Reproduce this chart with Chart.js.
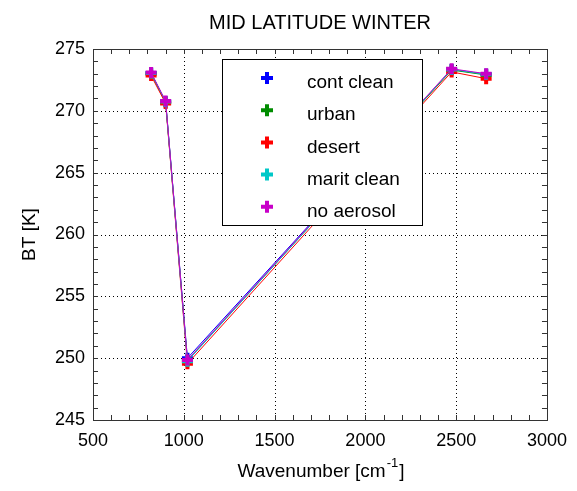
<!DOCTYPE html>
<html>
<head>
<meta charset="utf-8">
<script src="https://cdn.jsdelivr.net/npm/chart.js@4/dist/chart.umd.min.js"></script>
<style>
  html, body { margin: 0; padding: 0; background: #fff; }
  #wrap { width: 577px; height: 491px; position: relative; }
</style>
</head>
<body>
<div id="wrap"><canvas id="grafico"></canvas></div>
<script>
// datos
const titulo = 'MID LATITUDE WINTER';
const numeroOnda = [820, 900, 1020, 2475, 2665];
const nombres = ['cont clean', 'urban', 'desert', 'marit clean', 'no aerosol'];
const contClean = [273.05, 270.75, 250.0, 273.35, 272.95];
const urban = [273.0, 270.7, 249.8, 273.3, 272.9];
const desert = [272.85, 270.6, 249.55, 273.15, 272.6];
const maritClean = [273.05, 270.75, 249.75, 273.35, 272.95];
const noAerosol = [273.1, 270.8, 249.85, 273.4, 273.0];
const xTicks = [500, 1000, 1500, 2000, 2500, 3000];
const yTicks = [245, 250, 255, 260, 265, 270, 275];

const series = [contClean, urban, desert, maritClean, noAerosol];
const colores = ['#0000ff', '#008c00', '#ff0000', '#00c8c8', '#c800c8'];
const fuente = '"Liberation Sans", Arial, sans-serif';

const datasets = series.map((vals, i) => ({
  label: nombres[i],
  data: vals.map((v, j) => ({ x: numeroOnda[j], y: v })),
  borderColor: colores[i],
  backgroundColor: colores[i],
  borderWidth: 1,
  pointStyle: 'cross',
  pointRadius: 5.5,
  pointBorderWidth: 4,
  pointHoverRadius: 5.5,
  tension: 0,
  order: series.length - i   // no aerosol encima
}));

// ejes, rejilla punteada, marcas menores, titulo y leyenda
const decoracion = {
  id: 'decoracion',
  beforeDatasetsDraw(chart) {
    const { ctx, chartArea: a, scales: { x, y } } = chart;
    ctx.save();
    ctx.strokeStyle = '#000';
    ctx.lineWidth = 1;
    ctx.setLineDash([1, 3]);
    xTicks.slice(1, -1).forEach(v => {
      const px = Math.round(x.getPixelForValue(v)) + 0.5;
      ctx.beginPath(); ctx.moveTo(px, a.top); ctx.lineTo(px, a.bottom); ctx.stroke();
    });
    yTicks.slice(1, -1).forEach(v => {
      const py = Math.round(y.getPixelForValue(v)) + 0.5;
      ctx.beginPath(); ctx.moveTo(a.left, py); ctx.lineTo(a.right, py); ctx.stroke();
    });
    ctx.setLineDash([]);
    ctx.strokeStyle = '#333';
    // marcas menores hacia dentro
    for (let v = 500; v <= 3000; v += 100) {
      const px = Math.round(x.getPixelForValue(v)) + 0.5;
      ctx.beginPath();
      ctx.moveTo(px, a.bottom); ctx.lineTo(px, a.bottom - 5);
      ctx.moveTo(px, a.top); ctx.lineTo(px, a.top + 5);
      ctx.stroke();
    }
    for (let v = 245; v <= 275; v += 1) {
      const py = Math.round(y.getPixelForValue(v)) + 0.5;
      ctx.beginPath();
      ctx.moveTo(a.left, py); ctx.lineTo(a.left + 5, py);
      ctx.moveTo(a.right, py); ctx.lineTo(a.right - 5, py);
      ctx.stroke();
    }
    ctx.strokeRect(Math.round(a.left) + 0.5, Math.round(a.top) + 0.5,
      Math.round(a.right - a.left), Math.round(a.bottom - a.top));
    ctx.restore();
  },
  afterDraw(chart) {
    const { ctx, chartArea: a } = chart;
    ctx.save();
    ctx.fillStyle = '#000';
    ctx.textBaseline = 'middle';
    ctx.textAlign = 'center';
    ctx.font = '20px ' + fuente;
    ctx.fillText(titulo, (a.left + a.right) / 2, 23);

    // titulo eje x con superindice
    ctx.font = '19px ' + fuente;
    const t1 = 'Wavenumber [cm', t2 = '-1', t3 = ']';
    const w1 = ctx.measureText(t1).width, w3 = ctx.measureText(t3).width;
    ctx.font = '13px ' + fuente;
    const w2 = ctx.measureText(t2).width;
    let xs = (a.left + a.right) / 2 - (w1 + w2 + w3) / 2;
    ctx.textAlign = 'left';
    ctx.font = '19px ' + fuente;
    ctx.fillText(t1, xs, 472);
    ctx.font = '13px ' + fuente;
    ctx.fillText(t2, xs + w1 + 1, 463);
    ctx.font = '19px ' + fuente;
    ctx.fillText(t3, xs + w1 + w2 + 2, 472);

    // titulo eje y
    ctx.save();
    ctx.translate(30, (a.top + a.bottom) / 2);
    ctx.rotate(-Math.PI / 2);
    ctx.textAlign = 'center';
    ctx.fillText('BT [K]', 0, 0);
    ctx.restore();

    // leyenda dentro del area
    const lx = 222, ly = 59, lw = 200, lh = 166;
    ctx.fillStyle = '#fff';
    ctx.fillRect(lx, ly, lw, lh);
    ctx.strokeStyle = '#000';
    ctx.lineWidth = 1;
    ctx.strokeRect(lx + 0.5, ly + 0.5, lw, lh);
    nombres.forEach((n, i) => {
      const cy = 78 + i * 32.2;
      ctx.strokeStyle = colores[i];
      ctx.lineWidth = 4;
      ctx.beginPath();
      ctx.moveTo(261, cy); ctx.lineTo(273, cy);
      ctx.moveTo(267, cy - 6); ctx.lineTo(267, cy + 6);
      ctx.stroke();
      ctx.fillStyle = '#000';
      ctx.font = '19px ' + fuente;
      ctx.textAlign = 'left';
      ctx.fillText(n, 307, cy + 5);
    });
    ctx.restore();
  }
};

new Chart(document.getElementById('grafico'), {
  type: 'line',
  data: { datasets },
  options: {
    responsive: true,
    maintainAspectRatio: false,
    animation: false,
    layout: { padding: { top: 49, right: 24, left: 0, bottom: 0 } },
    plugins: {
      legend: { display: false },
      title: { display: false },
      tooltip: { enabled: false }
    },
    scales: {
      x: {
        type: 'linear',
        min: 500, max: 3000,
        afterFit: s => { s.height = 71; },
        afterBuildTicks: s => { s.ticks = xTicks.map(v => ({ value: v })); },
        grid: { display: false, drawTicks: false },
        border: { display: false },
        ticks: { color: '#000', font: { family: fuente, size: 18 }, padding: 10, maxRotation: 0,
                 callback: v => String(v) }
      },
      y: {
        min: 245, max: 275,
        afterFit: s => { s.width = 93; },
        afterBuildTicks: s => { s.ticks = yTicks.map(v => ({ value: v })); },
        grid: { display: false, drawTicks: false },
        border: { display: false },
        ticks: { color: '#000', font: { family: fuente, size: 18 }, padding: 8,
                 callback: v => String(v) }
      }
    }
  },
  plugins: [decoracion]
});
</script>
</body>
</html>
